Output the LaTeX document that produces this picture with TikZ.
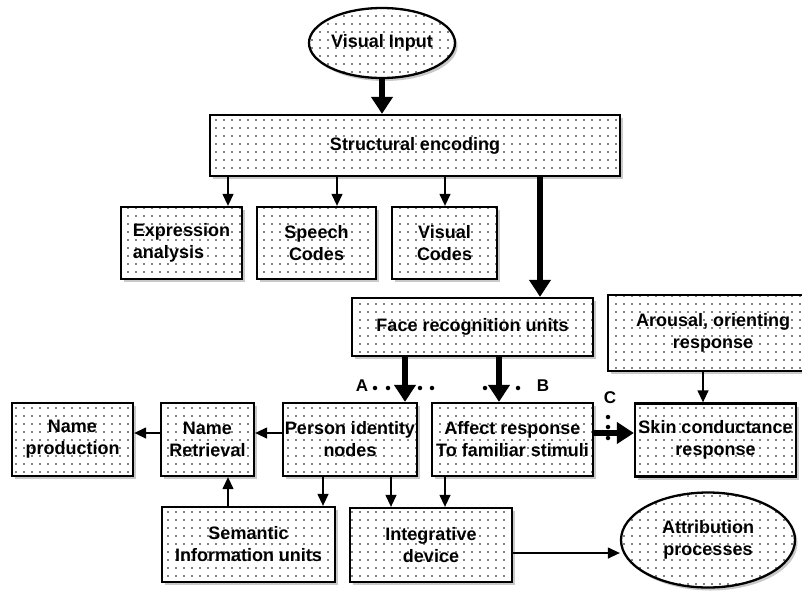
\documentclass[tikz,border=0pt]{standalone}
\usepackage{fontspec}
\setmainfont{Liberation Sans}
\usetikzlibrary{arrows.meta,shapes.geometric,shadows,patterns.meta}
\begin{document}
\begin{tikzpicture}[x=1pt,y=-1pt,
  box/.style={draw, line width=2.3pt,
    drop shadow={shadow xshift=2.5pt, shadow yshift=-3pt, opacity=0.3, fill=black!70},
    preaction={fill=white},
    pattern={Dots[distance=8pt,radius=0.85pt]},
    font=\fontsize{18}{22}\selectfont\bfseries, align=center, inner sep=0pt},
  oval/.style={box, ellipse},
  arr/.style={line width=1.3pt, -{Triangle[length=12pt,width=11pt]}},
  bigarr/.style={line width=5.5pt, -{Triangle[length=17pt,width=21pt]}},
  dotmark/.style={circle, fill=black, inner sep=0pt, minimum size=4.5pt},
  lbl/.style={font=\fontsize{17}{20}\selectfont\bfseries, inner sep=0pt}
]
\useasboundingbox (0,0) rectangle (802,592);

% nodes
\node[oval, minimum width=146pt, minimum height=70pt] (vis) at (382,43) {Visual Input};
\node[box, minimum width=410pt, minimum height=61pt] (struct) at (415,145.5) {Structural encoding};
\node[box, align=left, minimum width=121pt, minimum height=72pt] (expr) at (181.5,243) {Expression\\analysis};
\node[box, minimum width=119pt, minimum height=72pt] (speech) at (316.5,243) {Speech\\Codes};
\node[box, minimum width=105pt, minimum height=72pt] (vcodes) at (444.5,243) {Visual\\Codes};
\node[box, minimum width=241pt, minimum height=58pt] (fru) at (472.5,327) {Face recognition units};
\node[box, minimum width=210pt, minimum height=76pt] (arous) at (713,333) {Arousal, orienting\\response};
\node[box, minimum width=161pt, minimum height=73pt] (skin) at (715.5,440) {Skin conductance\\response};
\node[box, minimum width=161pt, minimum height=73pt] (affect) at (512.5,439.5) {Affect response\\To familiar stimuli};
\node[box, minimum width=134pt, minimum height=73pt] (person) at (350,439.5) {Person identity\\nodes};
\node[box, minimum width=93pt, minimum height=73pt] (nameret) at (207.5,439.5) {Name\\Retrieval};
\node[box, minimum width=121pt, minimum height=73pt] (nameprod) at (72.5,439.5) {Name\\production};
\node[box, minimum width=173pt, minimum height=75pt] (sem) at (248.5,544.5) {Semantic\\Information units};
\node[box, minimum width=162pt, minimum height=74pt] (integ) at (431,545) {Integrative\\device};
\node[oval, minimum width=174pt, minimum height=95pt] (attr) at (708,540) {Attribution\\processes};

% x positions of vertical connectors
\coordinate (x228) at (228,0);
\coordinate (x337) at (337,0);
\coordinate (x445) at (445,0);
\coordinate (x540) at (540,0);
\coordinate (x405) at (405,0);
\coordinate (x499) at (499,0);
\coordinate (x703) at (703,0);
\coordinate (x323) at (323,0);
\coordinate (x391) at (391,0);
\coordinate (y433) at (0,433);
\coordinate (y553) at (0,553);

% connectors
\draw[bigarr] (vis.south) -- (struct.north -| vis.south);
\draw[arr] (struct.south -| x228) -- (expr.north -| x228);
\draw[arr] (struct.south -| x337) -- (speech.north -| x337);
\draw[arr] (struct.south -| x445) -- (vcodes.north -| x445);
\draw[bigarr] (struct.south -| x540) -- (fru.north -| x540);
\draw[bigarr] (fru.south -| x405) -- (person.north -| x405);
\draw[bigarr] (fru.south -| x499) -- (affect.north -| x499);
\draw[arr] (arous.south -| x703) -- (skin.north -| x703);
\draw[bigarr] (affect.east |- y433) -- (skin.west |- y433);
\draw[arr] (person.west |- y433) -- (nameret.east |- y433);
\draw[arr] (nameret.west |- y433) -- (nameprod.east |- y433);
\draw[arr] (sem.north -| x228) -- (nameret.south -| x228);
\draw[arr] (person.south -| x323) -- (sem.north -| x323);
\draw[arr] (person.south -| x391) -- (integ.north -| x391);
\draw[arr] (affect.south -| x445) -- (integ.north -| x445);
\draw[arr] (integ.east |- y553) -- (attr.west |- y553);

% A, B, C markers
\node[lbl] (la) at (362,386) {A};
\foreach \i/\xx in {1/375,2/388,3/420,4/432} \node[dotmark] (da\i) at (\xx,388) {};
\node[lbl] (lb) at (543,386) {B};
\foreach \i/\xx in {1/485,2/497,3/518} \node[dotmark] (db\i) at (\xx,388) {};
\node[lbl] (lc) at (610,398) {C};
\foreach \i/\yy in {1/417,2/427,3/438} \node[dotmark] (dc\i) at (608,\yy) {};
\end{tikzpicture}
\end{document}
